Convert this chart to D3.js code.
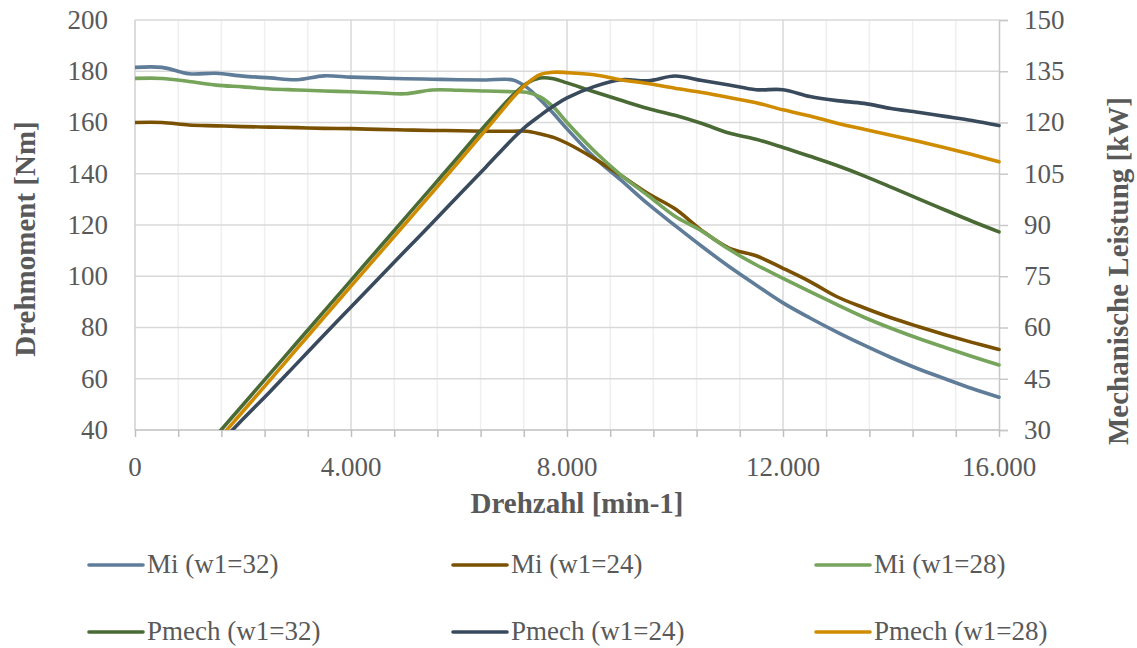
<!DOCTYPE html>
<html>
<head>
<meta charset="utf-8">
<script src="https://cdn.jsdelivr.net/npm/d3@7/dist/d3.min.js"></script>
<style>
  html, body { margin: 0; padding: 0; background: #fff; }
  svg { display: block; }
  text { font-family: "Liberation Serif", "DejaVu Serif", serif; fill: #595959; }
</style>
</head>
<body>
<svg id="chart" width="1137" height="648"></svg>
<script>
// ---- data ----
const rpm = [0,500,1000,1500,2000,2500,3000,3500,4000,4500,5000,5500,6000,6500,7000,7250,7500,7750,8000,8500,9000,9500,10000,10500,11000,11500,12000,12500,13000,13500,14000,14500,15000,15500,16000];
const mi32 = [181.5,181.5,179,179.2,178.1,177.4,176.7,178.2,177.7,177.4,177.1,176.9,176.7,176.6,176.6,173.8,169,163.5,157.5,146.5,137.5,128.2,119.8,111.6,103.8,96.6,89.6,83.7,78.2,73.1,68.3,63.9,60,56.2,52.8];
const mi24 = [160,160,159,158.7,158.4,158.2,158,157.7,157.6,157.3,157.1,156.9,156.8,156.6,156.6,156.6,155.6,154.2,151.9,146,139.3,132.3,126.3,117.8,111,108,103.1,97.9,92,87.7,83.8,80.4,77.2,74.2,71.4];
const mi28 = [177.2,177.2,176,174.6,173.9,173.1,172.7,172.3,172,171.6,171.2,172.7,172.6,172.3,172,171.8,170,166,160,149,139.5,131.5,123.4,117.6,110.5,104.5,99.2,94,88.9,84,79.7,75.8,72.2,68.7,65.4];
const pm32 = [0,9.7,19.2,28.3,37.4,46.5,55.6,64.7,73.8,82.9,92,101.1,110.2,119.4,128,131.4,133,132.8,131.6,129,126.5,124.1,122.1,119.7,116.9,115.1,112.7,110.1,107.4,104.4,101.1,97.7,94.4,91.1,88];
const pm24 = [0,8.3,16.6,25,33.2,41.2,49.5,57.8,66,74.2,82.4,90.5,98.8,107,115.3,119,122,124.8,127.2,130.5,132.5,132.2,133.6,132.3,131,129.6,129.6,127.6,126.4,125.6,124.1,123,121.8,120.6,119.1];
const pm28 = [0,8.8,17.6,26.4,35.5,44.6,53.8,63,72.1,81.2,90.3,99.4,108.6,117.9,127.3,131.3,134,134.7,134.6,134,132.5,131.4,130,128.8,127.3,125.8,123.7,121.9,119.8,118,116.3,114.5,112.6,110.6,108.5];

const leftTicks = [40,60,80,100,120,140,160,180,200];
const rightTicks = [30,45,60,75,90,105,120,135,150];
const xLabelTicks = [0,4000,8000,12000,16000];
const xLabels = ["0","4.000","8.000","12.000","16.000"];

const seriesNames = ["Mi (w1=32)","Mi (w1=24)","Mi (w1=28)","Pmech (w1=32)","Pmech (w1=24)","Pmech (w1=28)"];
const seriesData = [mi32, mi24, mi28, pm32, pm24, pm28];
const seriesAxis = ["L","L","L","R","R","R"];
const seriesColors = ["#5f7c99","#7a5100","#76a45b","#4a6a35","#3a4a5d","#cf8c00"];

// ---- layout ----
const svg = d3.select("#chart");
const X0 = 135, X1 = 999, Y0 = 430, Y1 = 20;

const x = d3.scaleLinear().domain([0,16000]).range([X0,X1]);
const yL = d3.scaleLinear().domain([40,200]).range([Y0,Y1]);
const yR = d3.scaleLinear().domain([30,150]).range([Y0,Y1]);

svg.append("rect").attr("width",1137).attr("height",648).attr("fill","#fff");

// vertical gridlines every 800 rpm
const vGrid = d3.range(800, 16000, 800);
svg.append("g").selectAll("line").data(vGrid).join("line")
  .attr("x1", d => x(d)).attr("x2", d => x(d))
  .attr("y1", Y1).attr("y2", Y0)
  .attr("stroke", d => (d % 4000 === 0) ? "#d9d9d9" : "#efefef")
  .attr("stroke-width", 1.5);

// horizontal gridlines
svg.append("g").selectAll("line").data(leftTicks.slice(1)).join("line")
  .attr("x1", X0).attr("x2", X1)
  .attr("y1", d => yL(d)).attr("y2", d => yL(d))
  .attr("stroke", "#d9d9d9").attr("stroke-width", 1.5);

// left axis line
svg.append("line").attr("x1",X0).attr("x2",X0).attr("y1",Y1).attr("y2",Y0)
  .attr("stroke","#d0d0d0").attr("stroke-width",1.5);

// right axis with outward ticks
const rAxis = d3.axisRight(yR).tickValues(rightTicks).tickSize(9).tickFormat("");
const rg = svg.append("g").attr("transform", `translate(${X1},0)`).call(rAxis);
rg.selectAll("path,line").attr("stroke","#c8c8c8").attr("stroke-width",1.5);

// bottom axis with ticks every 800
const bAxis = d3.axisBottom(x).tickValues(d3.range(0,16001,800)).tickSize(7).tickFormat("");
const bg = svg.append("g").attr("transform", `translate(0,${Y0})`).call(bAxis);
bg.selectAll("path,line").attr("stroke","#bfbfbf").attr("stroke-width",1.5);
bg.select("path").attr("d", `M${X0},0H${X1}`);

// tick labels
svg.append("g").selectAll("text").data(leftTicks).join("text")
  .attr("x", 108).attr("y", d => yL(d)).attr("dy","0.33em")
  .attr("text-anchor","end").attr("font-size",27).text(d => d);
svg.append("g").selectAll("text").data(rightTicks).join("text")
  .attr("x", 1024).attr("y", d => yR(d)).attr("dy","0.33em")
  .attr("text-anchor","start").attr("font-size",27).text(d => d);
svg.append("g").selectAll("text").data(xLabelTicks).join("text")
  .attr("x", d => x(d)).attr("y", 476)
  .attr("text-anchor","middle").attr("font-size",27).text((d,i) => xLabels[i]);

// axis titles
svg.append("text").attr("x",577).attr("y",513).attr("text-anchor","middle")
  .attr("font-size",29).attr("font-weight","bold").text("Drehzahl [min-1]");
svg.append("text").attr("transform","translate(35,239) rotate(-90)").attr("text-anchor","middle")
  .attr("font-size",29).attr("font-weight","bold").text("Drehmoment [Nm]");
svg.append("text").attr("transform","translate(1128,271) rotate(-90)").attr("text-anchor","middle")
  .attr("font-size",29).attr("font-weight","bold").text("Mechanische Leistung [kW]");

// clip
svg.append("clipPath").attr("id","plotclip").append("rect")
  .attr("x",X0).attr("y",Y1-4).attr("width",X1-X0+3).attr("height",Y0-Y1+4);

const gLines = svg.append("g").attr("clip-path","url(#plotclip)");
seriesData.forEach((vals, i) => {
  const ys = seriesAxis[i] === "L" ? yL : yR;
  const line = d3.line().x((d,j) => x(rpm[j])).y(d => ys(d)).curve(d3.curveCatmullRom.alpha(0.5));
  gLines.append("path").datum(vals).attr("d", line)
    .attr("fill","none").attr("stroke", seriesColors[i])
    .attr("stroke-width",3.6).attr("stroke-linejoin","round").attr("stroke-linecap","round");
});

// legend
const legX = [89, 453, 816];
const legY = [565, 632];
seriesNames.forEach((name, i) => {
  const cx = legX[i % 3], cy = legY[Math.floor(i / 3)];
  svg.append("line").attr("x1",cx).attr("x2",cx+54).attr("y1",cy).attr("y2",cy)
    .attr("stroke",seriesColors[i]).attr("stroke-width",3.6).attr("stroke-linecap","round");
  svg.append("text").attr("x",cx+58).attr("y",cy+8).attr("font-size",27).text(name);
});
</script>
</body>
</html>
